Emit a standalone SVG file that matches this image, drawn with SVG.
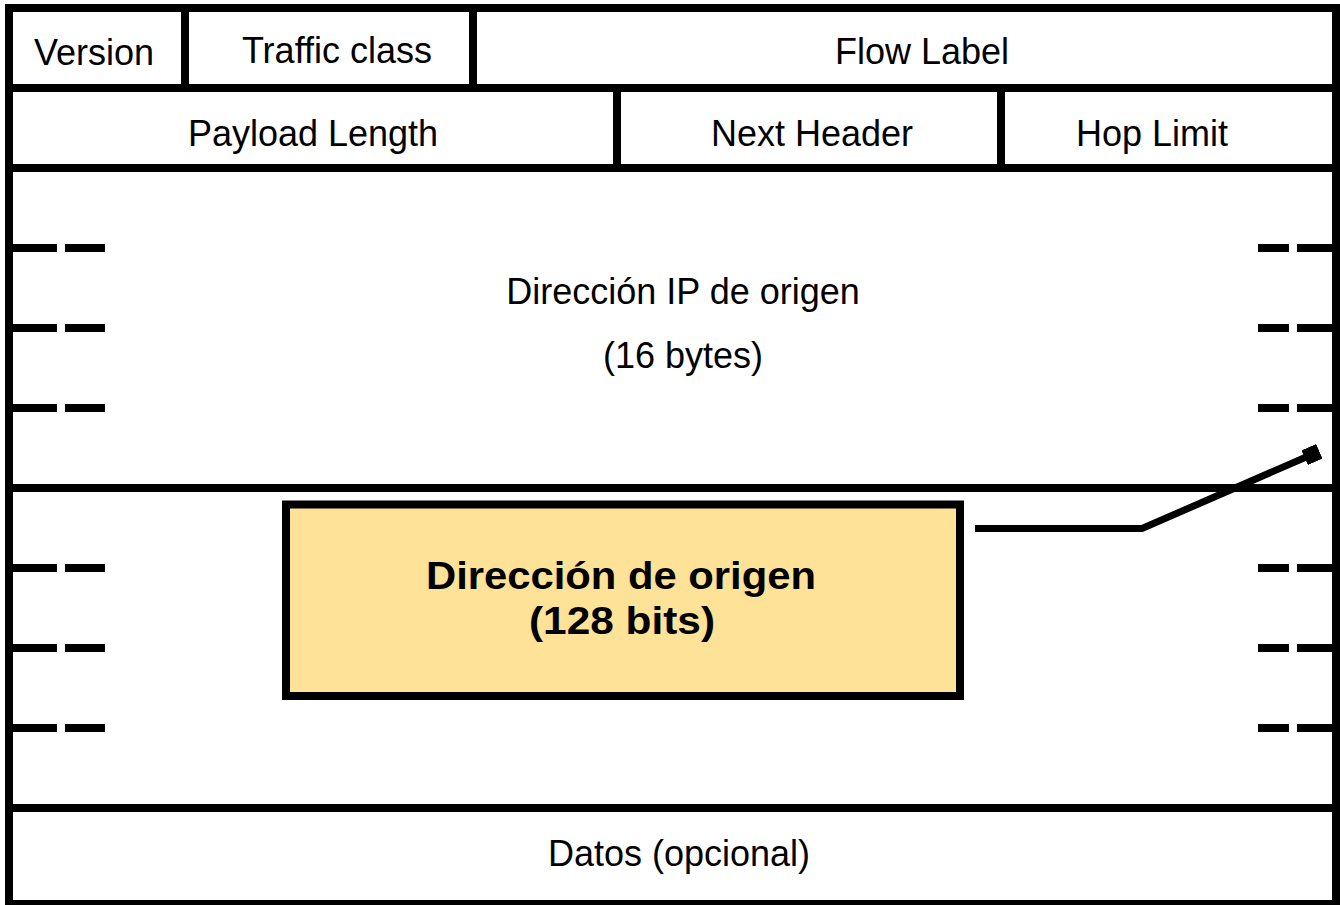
<svg xmlns="http://www.w3.org/2000/svg" width="1340" height="905" viewBox="0 0 1340 905">
  <style>
    .rule { stroke: #000; stroke-width: 8; fill: none; }
    .tick { stroke: #000; stroke-width: 8; fill: none; }
    .lbl { font-family: "Liberation Sans", Arial, sans-serif; font-size: 36px; fill: #000; text-anchor: middle; }
    .bold { font-family: "Liberation Sans", Arial, sans-serif; font-size: 39px; font-weight: bold; fill: #000; text-anchor: middle; }
    .note { fill: #FDE298; stroke: #000; stroke-width: 8; }
    .link { stroke: #000; stroke-width: 7; fill: none; }
  </style>
  <defs>
    <marker id="sq" viewBox="0 0 16 16" refX="8" refY="8" markerWidth="16" markerHeight="16" markerUnits="userSpaceOnUse" orient="auto">
      <rect x="0" y="0" width="16" height="16" fill="#000"/>
    </marker>
  </defs>

  <rect x="0" y="0" width="1340" height="905" fill="#fff"/>

  <!-- header frame: outer border and row separators -->
  <g id="frame">
    <rect class="rule" x="9" y="8" width="1327" height="896"/>
    <line class="rule" x1="9" y1="88" x2="1336" y2="88"/>
    <line class="rule" x1="9" y1="168" x2="1336" y2="168"/>
    <line class="rule" x1="9" y1="488" x2="1336" y2="488"/>
    <line class="rule" x1="9" y1="808" x2="1336" y2="808"/>
  </g>

  <!-- row 1 -->
  <g id="version">
    <line class="rule" x1="185" y1="8" x2="185" y2="88"/>
    <text class="lbl" x="94" y="65">Version</text>
  </g>
  <g id="traffic-class">
    <line class="rule" x1="473" y1="8" x2="473" y2="88"/>
    <text class="lbl" x="337" y="63">Traffic class</text>
  </g>
  <g id="flow-label">
    <text class="lbl" x="922" y="64">Flow Label</text>
  </g>

  <!-- row 2 -->
  <g id="payload-length">
    <line class="rule" x1="617" y1="88" x2="617" y2="168"/>
    <text class="lbl" x="313" y="146">Payload Length</text>
  </g>
  <g id="next-header">
    <line class="rule" x1="1001" y1="88" x2="1001" y2="168"/>
    <text class="lbl" x="812" y="146">Next Header</text>
  </g>
  <g id="hop-limit">
    <text class="lbl" x="1152" y="146">Hop Limit</text>
  </g>

  <!-- source address, 4 words split by broken ticks -->
  <g id="source-address">
    <path class="tick" d="M9 248H57M65 248H105M9 328H57M65 328H105M9 408H57M65 408H105"/>
    <path class="tick" d="M1258 248H1289M1297 248H1336M1258 328H1289M1297 328H1336M1258 408H1289M1297 408H1336"/>
    <text class="lbl" x="683" y="304">Dirección IP de origen</text>
    <text class="lbl" x="683" y="368">(16 bytes)</text>
  </g>

  <!-- destination address block -->
  <g id="destination-address">
    <path class="tick" d="M9 568H57M65 568H105M9 648H57M65 648H105M9 728H57M65 728H105"/>
    <path class="tick" d="M1258 568H1289M1297 568H1336M1258 648H1289M1297 648H1336M1258 728H1289M1297 728H1336"/>
  </g>

  <!-- callout box -->
  <g id="callout">
    <rect class="note" x="286" y="504.5" width="674" height="191.5"/>
    <text class="bold" x="621" y="589" textLength="390" lengthAdjust="spacingAndGlyphs">Dirección de origen</text>
    <text class="bold" x="622" y="634" textLength="186" lengthAdjust="spacingAndGlyphs">(128 bits)</text>
  </g>

  <!-- data -->
  <g id="data">
    <text class="lbl" x="679" y="866">Datos (opcional)</text>
  </g>

  <!-- connectors -->
  <g id="connectors">
    <polyline class="link" points="975,528.5 1142,528.5 1312,454.5" marker-end="url(#sq)"/>
  </g>
</svg>
